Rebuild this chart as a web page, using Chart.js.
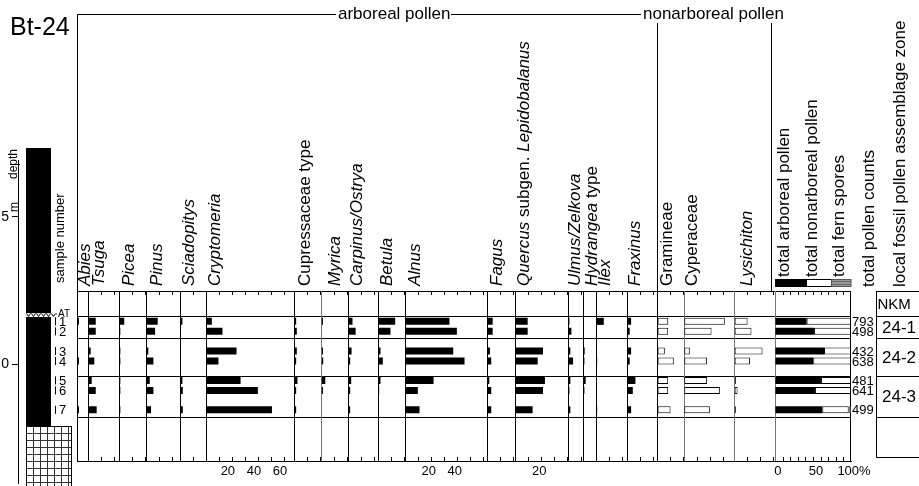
<!DOCTYPE html>
<html>
<head>
<meta charset="utf-8">
<title>Bt-24 pollen diagram</title>
<script src="https://cdn.jsdelivr.net/npm/chart.js@4.4.1/dist/chart.umd.min.js"></script>
<style>
  html, body { margin:0; padding:0; background:#fff; }
  #wrap { position:relative; width:919px; height:486px; overflow:hidden;
          font-family:"Liberation Sans", Arial, Helvetica, sans-serif; color:#000; }
  #wrap canvas { position:absolute; left:0; top:0; }
  #deco { position:absolute; left:0; top:0; pointer-events:none; }
  .rl { position:absolute; white-space:nowrap; transform-origin:0 0; transform:rotate(-90deg); }
  .tx { position:absolute; white-space:nowrap; }
</style>
</head>
<body>
<div id="wrap">
  <canvas id="litho" width="77" height="486"></canvas>
  <canvas id="pollen" width="919" height="486"></canvas>
  <svg id="deco" width="919" height="486" xmlns="http://www.w3.org/2000/svg">
    <g stroke="#000" stroke-width="1" fill="none">
      <polyline points="77.5,291 77.5,14.5 336,14.5"/>
      <line x1="451" y1="14.5" x2="641" y2="14.5"/>
      <line x1="657.5" y1="23" x2="657.5" y2="291"/>
      <line x1="771.5" y1="23" x2="771.5" y2="291"/>
    </g>
    <rect x="775" y="279" width="31.5" height="8" fill="#000"/>
    <rect x="806.5" y="279.5" width="25" height="7" fill="#fff" stroke="#000"/>
    <rect x="831.5" y="279.5" width="19.5" height="7" fill="#9a9a9a" stroke="#555"/>
    <line x1="832" y1="281.5" x2="851" y2="281.5" stroke="#666"/>
    <line x1="832" y1="284.5" x2="851" y2="284.5" stroke="#666"/>
  </svg>
</div>
<script>
// ================= DATA =================
const sampleNames  = ['1', '2', '3', '4', '5', '6', '7'];
const sampleDepth  = [1.45, 1.11, 0.44, 0.10, -0.56, -0.90, -1.56];   // m
const pollenCounts = [793, 498, 432, 638, 481, 641, 499];

const taxa = ['Abies', 'Tsuga', 'Picea', 'Pinus', 'Sciadopitys', 'Cryptomeria',
  'Cupressaceae type', 'Myrica', 'Carpinus/Ostrya', 'Betula', 'Alnus', 'Fagus',
  'Quercus subgen. Lepidobalanus', 'Ulmus/Zelkova', 'Hydrangea type', 'Ilex', 'Fraxinus',
  'Gramineae', 'Cyperaceae', 'Lysichiton'];

// arboreal pollen (%)
const abies        = [1.5, 0, 0, 1.5, 0, 0, 1.5];
const tsuga        = [6.2, 6.2, 2.3, 5.1, 3.1, 6.2, 6.9];
const picea        = [3.8, 0.8, 0.8, 0.8, 0.8, 0.8, 0.8];
const pinus        = [8.7, 6.7, 1.5, 5.4, 2.6, 5.4, 3.6];
const sciadopitys  = [1.5, 0, 0, 0, 1.5, 1.8, 1.8];
const cryptomeria  = [4.6, 12.8, 23.6, 9.7, 26.7, 40.0, 50.8];
const cupressaceae = [1.5, 2.0, 2.0, 1.5, 2.5, 1.5, 1.5];
const myrica       = [1.3, 0, 1.3, 1.5, 3.1, 1.3, 0];
const carpinus     = [3.8, 6.2, 3.1, 2.0, 2.8, 2.0, 2.0];
const betula       = [13.3, 9.7, 2.0, 3.8, 2.0, 1.0, 0];
const alnus        = [34.0, 39.7, 36.9, 45.6, 21.8, 9.7, 11.0];
const fagus        = [4.4, 4.4, 2.3, 3.3, 1.8, 3.3, 3.3];
const quercus      = [10.0, 10.0, 21.8, 17.7, 23.3, 21.8, 13.8];
const ulmus        = [1.3, 2.8, 2.0, 4.1, 2.0, 1.3, 2.0];
const hydrangea    = [0, 0, 1.5, 1.3, 2.3, 1.3, 0];
const ilex         = [5.9, 0, 0, 0.8, 0, 0, 0.8];
const fraxinus     = [3.1, 2.0, 3.1, 2.0, 6.4, 4.4, 3.1];
// nonarboreal pollen (%)
const gramineae    = [8.5, 8.5, 5.9, 12.8, 8.5, 8.5, 10.3];
const cyperaceae   = [31.5, 21.3, 4.6, 17.9, 17.9, 27.7, 20.0];
const lysichiton   = [10.3, 13.3, 21.8, 12.1, 1.3, 2.6, 1.3];
// totals (%)
const totalAP   = [41.7, 51.3, 64.5, 50.4, 60.5, 52.6, 62.3];
const totalNAP  = [58.3, 48.7, 35.5, 49.6, 39.5, 47.4, 34.7];
const totalFern = [0, 0, 0, 0, 0, 0, 3.0];

// tick labels
const cryptomeriaTicks = [20, 40, 60];
const alnusTicks       = [20, 40];
const quercusTicks     = [20];
const totalTicks       = [0, 50, 100];
const depthTicks       = [0, 5];

// zones
const zoneSeries  = 'NKM';
const zoneNames   = ['24-1', '24-2', '24-3'];
const zoneTop     = [1.63, 0.88, -0.41];
const zoneBottom  = [0.88, -0.41, -1.80];

// lithology (m)
const lithoNames  = ['mud', 'gravel'];
const lithoTop    = [7.35, -2.11];
const lithoBottom = [-2.11, -4.30];
const tephraName  = 'AT';
const tephraTop   = 1.73;
const tephraBottom = 1.60;

// ================= STYLE / LAYOUT =================
const FONT = '"Liberation Sans", Arial, Helvetica, sans-serif';
Chart.defaults.font.family = FONT;
Chart.defaults.color = '#000';
const PX_PER_M = 29.4, ZERO_PX = 364;          // depth scale placement
const depthAt = px => (ZERO_PX - px) / PX_PER_M;
const PX_PER_PCT = 1.3;
const series = [abies, tsuga, picea, pinus, sciadopitys, cryptomeria, cupressaceae, myrica,
  carpinus, betula, alnus, fagus, quercus, ulmus, hydrangea, ilex, fraxinus,
  gramineae, cyperaceae, lysichiton];
const colRange = [8.2, 24.3, 20.8, 26.2, 19.5, 67.9, 20.8, 20.2, 23.3, 21.0, 62.8, 21.3,
  40.8, 11.5, 10.3, 23.8, 23.1, 20.5, 38.7, 31.3];
const colTickLabels = {5: cryptomeriaTicks, 10: alnusTicks, 12: quercusTicks};
const colLabelOffset = {5: -4, 10: -2.5, 12: -1.5};
const greySep = {7: true, 18: true, 19: true};
const NAP_START = 17;
const TOTAL_WIDTH_PX = 76;
const labelX = [78, 91.7, 121.7, 150, 181.7, 208.3, 298.3, 328.3, 350, 380, 408.3, 490,
  516.7, 567.5, 585, 598.3, 628.3, 660, 685, 740];

const wrap = document.getElementById('wrap');
function addText(html, left, top, size, opts = {}) {
  const d = document.createElement('div');
  d.className = opts.rot ? 'rl' : 'tx';
  d.innerHTML = html;
  d.style.left = left + 'px';
  d.style.top = top + 'px';
  d.style.fontSize = size + 'px';
  d.style.lineHeight = size + 'px';
  if (opts.width) { d.style.width = opts.width + 'px'; d.style.textAlign = 'center'; }
  wrap.appendChild(d);
  return d;
}
const noPad = s => { s.paddingTop = 0; s.paddingBottom = 0; s.paddingLeft = 0; s.paddingRight = 0; };

// ================= POLLEN CHART =================
const pScales = {
  y: { type: 'linear', display: false, offset: false, min: depthAt(461), max: depthAt(291) }
};
function axisCommon(extra) {
  return Object.assign({
    type: 'linear', position: 'bottom', stack: 'cols', min: 0, offset: false,
    grid: { display: true, drawOnChartArea: false, drawTicks: false },
    border: { display: true, color: '#000', width: 1 },
    afterFit: s => { s.height = 20; noPad(s); }
  }, extra);
}
series.forEach((arr, i) => {
  const labs = colTickLabels[i] || [];
  pScales['c' + i] = axisCommon({
    max: colRange[i], stackWeight: colRange[i] * PX_PER_PCT,
    ticks: { stepSize: 10, includeBounds: false, autoSkip: false, maxRotation: 0, minRotation: 0,
      padding: 3, color: '#000', font: { size: 13 }, labelOffset: colLabelOffset[i] || 0,
      callback: v => labs.includes(v) ? String(v) : '' }
  });
});
pScales.tot = axisCommon({
  max: 100, stacked: true, stackWeight: TOTAL_WIDTH_PX,
  ticks: { stepSize: 10, includeBounds: false, autoSkip: false, maxRotation: 0, minRotation: 0,
    padding: 3, color: '#000', font: { size: 13 }, labelOffset: 3,
    callback: v => totalTicks.includes(v) ? (v === 100 ? '100%' : String(v)) : '' }
});

const pDatasets = series.map((arr, i) => ({
  label: taxa[i], xAxisID: 'c' + i, yAxisID: 'y',
  data: arr.map((v, k) => ({ x: v > 0 ? v : null, y: sampleDepth[k] })),
  backgroundColor: i >= NAP_START ? '#fff' : '#000',
  borderColor: '#000', borderWidth: i >= NAP_START ? 1 : 0, borderSkipped: false,
  barThickness: 7, grouped: false, inflateAmount: 0
}));
[['total arboreal pollen', totalAP, '#000', 0],
 ['total nonarboreal pollen', totalNAP, '#fff', 1],
 ['total fern spores', totalFern, '#9a9a9a', 1]].forEach(([lab, arr, col, bw]) => {
  pDatasets.push({
    label: lab, xAxisID: 'tot', yAxisID: 'y', stack: 'tot',
    data: arr.map((v, k) => ({ x: v > 0 ? v : null, y: sampleDepth[k] })),
    backgroundColor: col, borderColor: bw ? (col === '#fff' ? '#000' : '#444') : col,
    borderWidth: bw, borderSkipped: false, barThickness: 7, grouped: false, inflateAmount: 0
  });
});

const ZONE_L = 876.5;
function hline(ctx, x1, x2, y) { ctx.beginPath(); ctx.moveTo(x1, y); ctx.lineTo(x2, y); ctx.stroke(); }
function vline(ctx, x, y1, y2) { ctx.beginPath(); ctx.moveTo(x, y1); ctx.lineTo(x, y2); ctx.stroke(); }

const pollenDecor = {
  id: 'pollenDecor',
  beforeDatasetsDraw(chart) {
    const { ctx, chartArea: a, scales } = chart;
    const y = scales.y;
    ctx.save();
    ctx.lineWidth = 1;
    ctx.strokeStyle = '#000';
    hline(ctx, a.left, a.right, a.top + 0.5);
    const bounds = zoneTop.concat([zoneBottom[zoneBottom.length - 1]]);
    bounds.forEach(b => {
      const py = Math.round(y.getPixelForValue(b)) + 0.5;
      hline(ctx, a.left, a.right, py);
      hline(ctx, ZONE_L, 919, py);
    });
    const ids = series.map((s, i) => 'c' + i).concat(['tot']);
    ids.forEach((id, i) => {
      const s = scales[id];
      ctx.strokeStyle = (greySep[i] || id === 'tot') ? '#777' : '#000';
      vline(ctx, Math.round(s.left) + 0.5, a.top, a.bottom);
      ctx.strokeStyle = '#000';
      s.ticks.forEach(t => {
        if (t.value <= 0 || t.value >= s.max) return;
        const px = Math.round(s.getPixelForValue(t.value)) + 0.5;
        vline(ctx, px, a.top, a.top + 4);
        vline(ctx, px, a.bottom - 4, a.bottom);
      });
    });
    ctx.strokeStyle = '#000';
    vline(ctx, Math.round(scales.tot.right) - 0.5, a.top, a.bottom);
    // zone box
    const zb = Math.round(a.bottom - 4) + 0.5;
    hline(ctx, ZONE_L, 919, a.top + 0.5);
    vline(ctx, ZONE_L, a.top, zb);
    hline(ctx, ZONE_L, 919, zb);
    ctx.restore();
  }
};

const pollenChart = new Chart(document.getElementById('pollen'), {
  type: 'bar',
  data: { datasets: pDatasets },
  options: {
    indexAxis: 'y', responsive: false, animation: false,
    layout: { padding: { top: 291, bottom: 5, left: 77, right: 68 } },
    scales: pScales,
    plugins: { legend: { display: false }, tooltip: { enabled: false } }
  },
  plugins: [pollenDecor]
});

// ================= LITHOLOGY CHART =================
function makePattern(w, h, draw, ox, oy) {
  const c = document.createElement('canvas'); c.width = w; c.height = h;
  const g = c.getContext('2d');
  draw(g);
  const p = g.createPattern(c, 'repeat');
  if (p.setTransform) p.setTransform(new DOMMatrix().translate(ox, oy));
  return p;
}
const gravelPattern = makePattern(7, 7, g => {
  g.fillStyle = '#fff'; g.fillRect(0, 0, 7, 7);
  g.fillStyle = '#333'; g.fillRect(0, 0, 7, 1); g.fillRect(0, 0, 1, 7);
}, 5, 6);
const tephraPattern = makePattern(5, 4, g => {
  g.fillStyle = '#fff'; g.fillRect(0, 0, 5, 4);
  g.strokeStyle = '#000'; g.lineWidth = 1;
  g.beginPath(); g.moveTo(0.5, 0.5); g.lineTo(2.5, 3.5); g.lineTo(4.5, 0.5); g.stroke();
}, 1, 1);

const LITHO_X0 = 8;   // column left offset from depth axis
const lithoWidth = { mud: 25, gravel: 46, tephra: 31 };
const lithoFill = { mud: '#000', gravel: gravelPattern };
const lDatasets = lithoNames.map((n, i) => ({
  label: n, order: 1,
  data: [{ x: LITHO_X0 + lithoWidth[n] / 2, y: [lithoBottom[i], lithoTop[i]] }],
  backgroundColor: lithoFill[n], borderColor: '#000', borderWidth: n === 'gravel' ? 1 : 0,
  borderSkipped: false, barThickness: lithoWidth[n], grouped: false, clip: false, inflateAmount: 0
}));
lDatasets.push({
  label: tephraName, order: 0,
  data: [{ x: LITHO_X0 + lithoWidth.tephra / 2, y: [tephraBottom, tephraTop] }],
  backgroundColor: tephraPattern, borderWidth: 0, barThickness: lithoWidth.tephra,
  grouped: false, clip: false, inflateAmount: 0
});

const lithoDecor = {
  id: 'lithoDecor',
  afterDatasetsDraw(chart) {
    const { ctx, scales } = chart;
    ctx.save();
    ctx.strokeStyle = '#000'; ctx.lineWidth = 1;
    sampleDepth.forEach(d => {
      const py = scales.y.getPixelForValue(d);
      vline(ctx, 55.5, py - 4, py + 4);
    });
    ctx.restore();
  }
};

const lithoChart = new Chart(document.getElementById('litho'), {
  type: 'bar',
  data: { datasets: lDatasets },
  options: {
    responsive: false, animation: false,
    layout: { padding: { top: 160, bottom: 3, left: 0, right: 0 } },
    scales: {
      x: { type: 'linear', display: false, offset: false, min: 0, max: 59 },
      y: { type: 'linear', position: 'left', min: depthAt(483), max: depthAt(160),
        afterBuildTicks: s => { s.ticks = depthTicks.map(v => ({ value: v })); },
        afterFit: s => { s.width = 18; noPad(s); },
        grid: { drawOnChartArea: false, drawTicks: true, tickLength: 6, color: '#000' },
        border: { display: true, color: '#000', width: 1 },
        ticks: { padding: 3, color: '#000', font: { size: 14 } } }
    },
    plugins: { legend: { display: false }, tooltip: { enabled: false } }
  },
  plugins: [lithoDecor]
});

// ================= TEXT =================
addText('Bt-24', 10, 13.5, 25);
addText('arboreal pollen', 338, 5, 17);
addText('nonarboreal pollen', 643, 5, 17);
const nonItalic = new Set(['type', 'subgen.', 'Cupressaceae', 'Gramineae', 'Cyperaceae']);
taxa.forEach((t, i) => {
  const html = t.split(' ').map(w => nonItalic.has(w) ? w : '<i>' + w + '</i>').join(' ');
  addText(html, labelX[i] - 2, 286, 17, { rot: true });
});
[['total arboreal pollen', 776.7, 276.5], ['total nonarboreal pollen', 805, 276.5],
 ['total fern spores', 831.7, 276.5], ['total pollen counts', 861.7, 286.5],
 ['local fossil pollen assemblage zone', 893.3, 286.5]].forEach(([t, x, b]) =>
  addText(t, x - 2, b, 17, { rot: true }));
addText('sample number', 53, 283, 13, { rot: true });
addText('depth', 7, 179, 12, { rot: true });
addText('m', 8, 212, 12, { rot: true });

const yL = lithoChart.scales.y;
sampleNames.forEach((n, i) => addText(n, 59, yL.getPixelForValue(sampleDepth[i]) - 6.5, 13));
addText(tephraName, 58, yL.getPixelForValue((tephraTop + tephraBottom) / 2) - 6, 10);

const yP = pollenChart.scales.y;
pollenCounts.forEach((n, i) => addText(String(n), 852, yP.getPixelForValue(sampleDepth[i]) - 6.5, 13));
addText(zoneSeries, 877.5, 296, 15);
zoneNames.forEach((z, i) => {
  const mid = yP.getPixelForValue((zoneTop[i] + zoneBottom[i]) / 2);
  addText(z, 877, mid - 8.5, 17, { width: 44 });
});
</script>
</body>
</html>
